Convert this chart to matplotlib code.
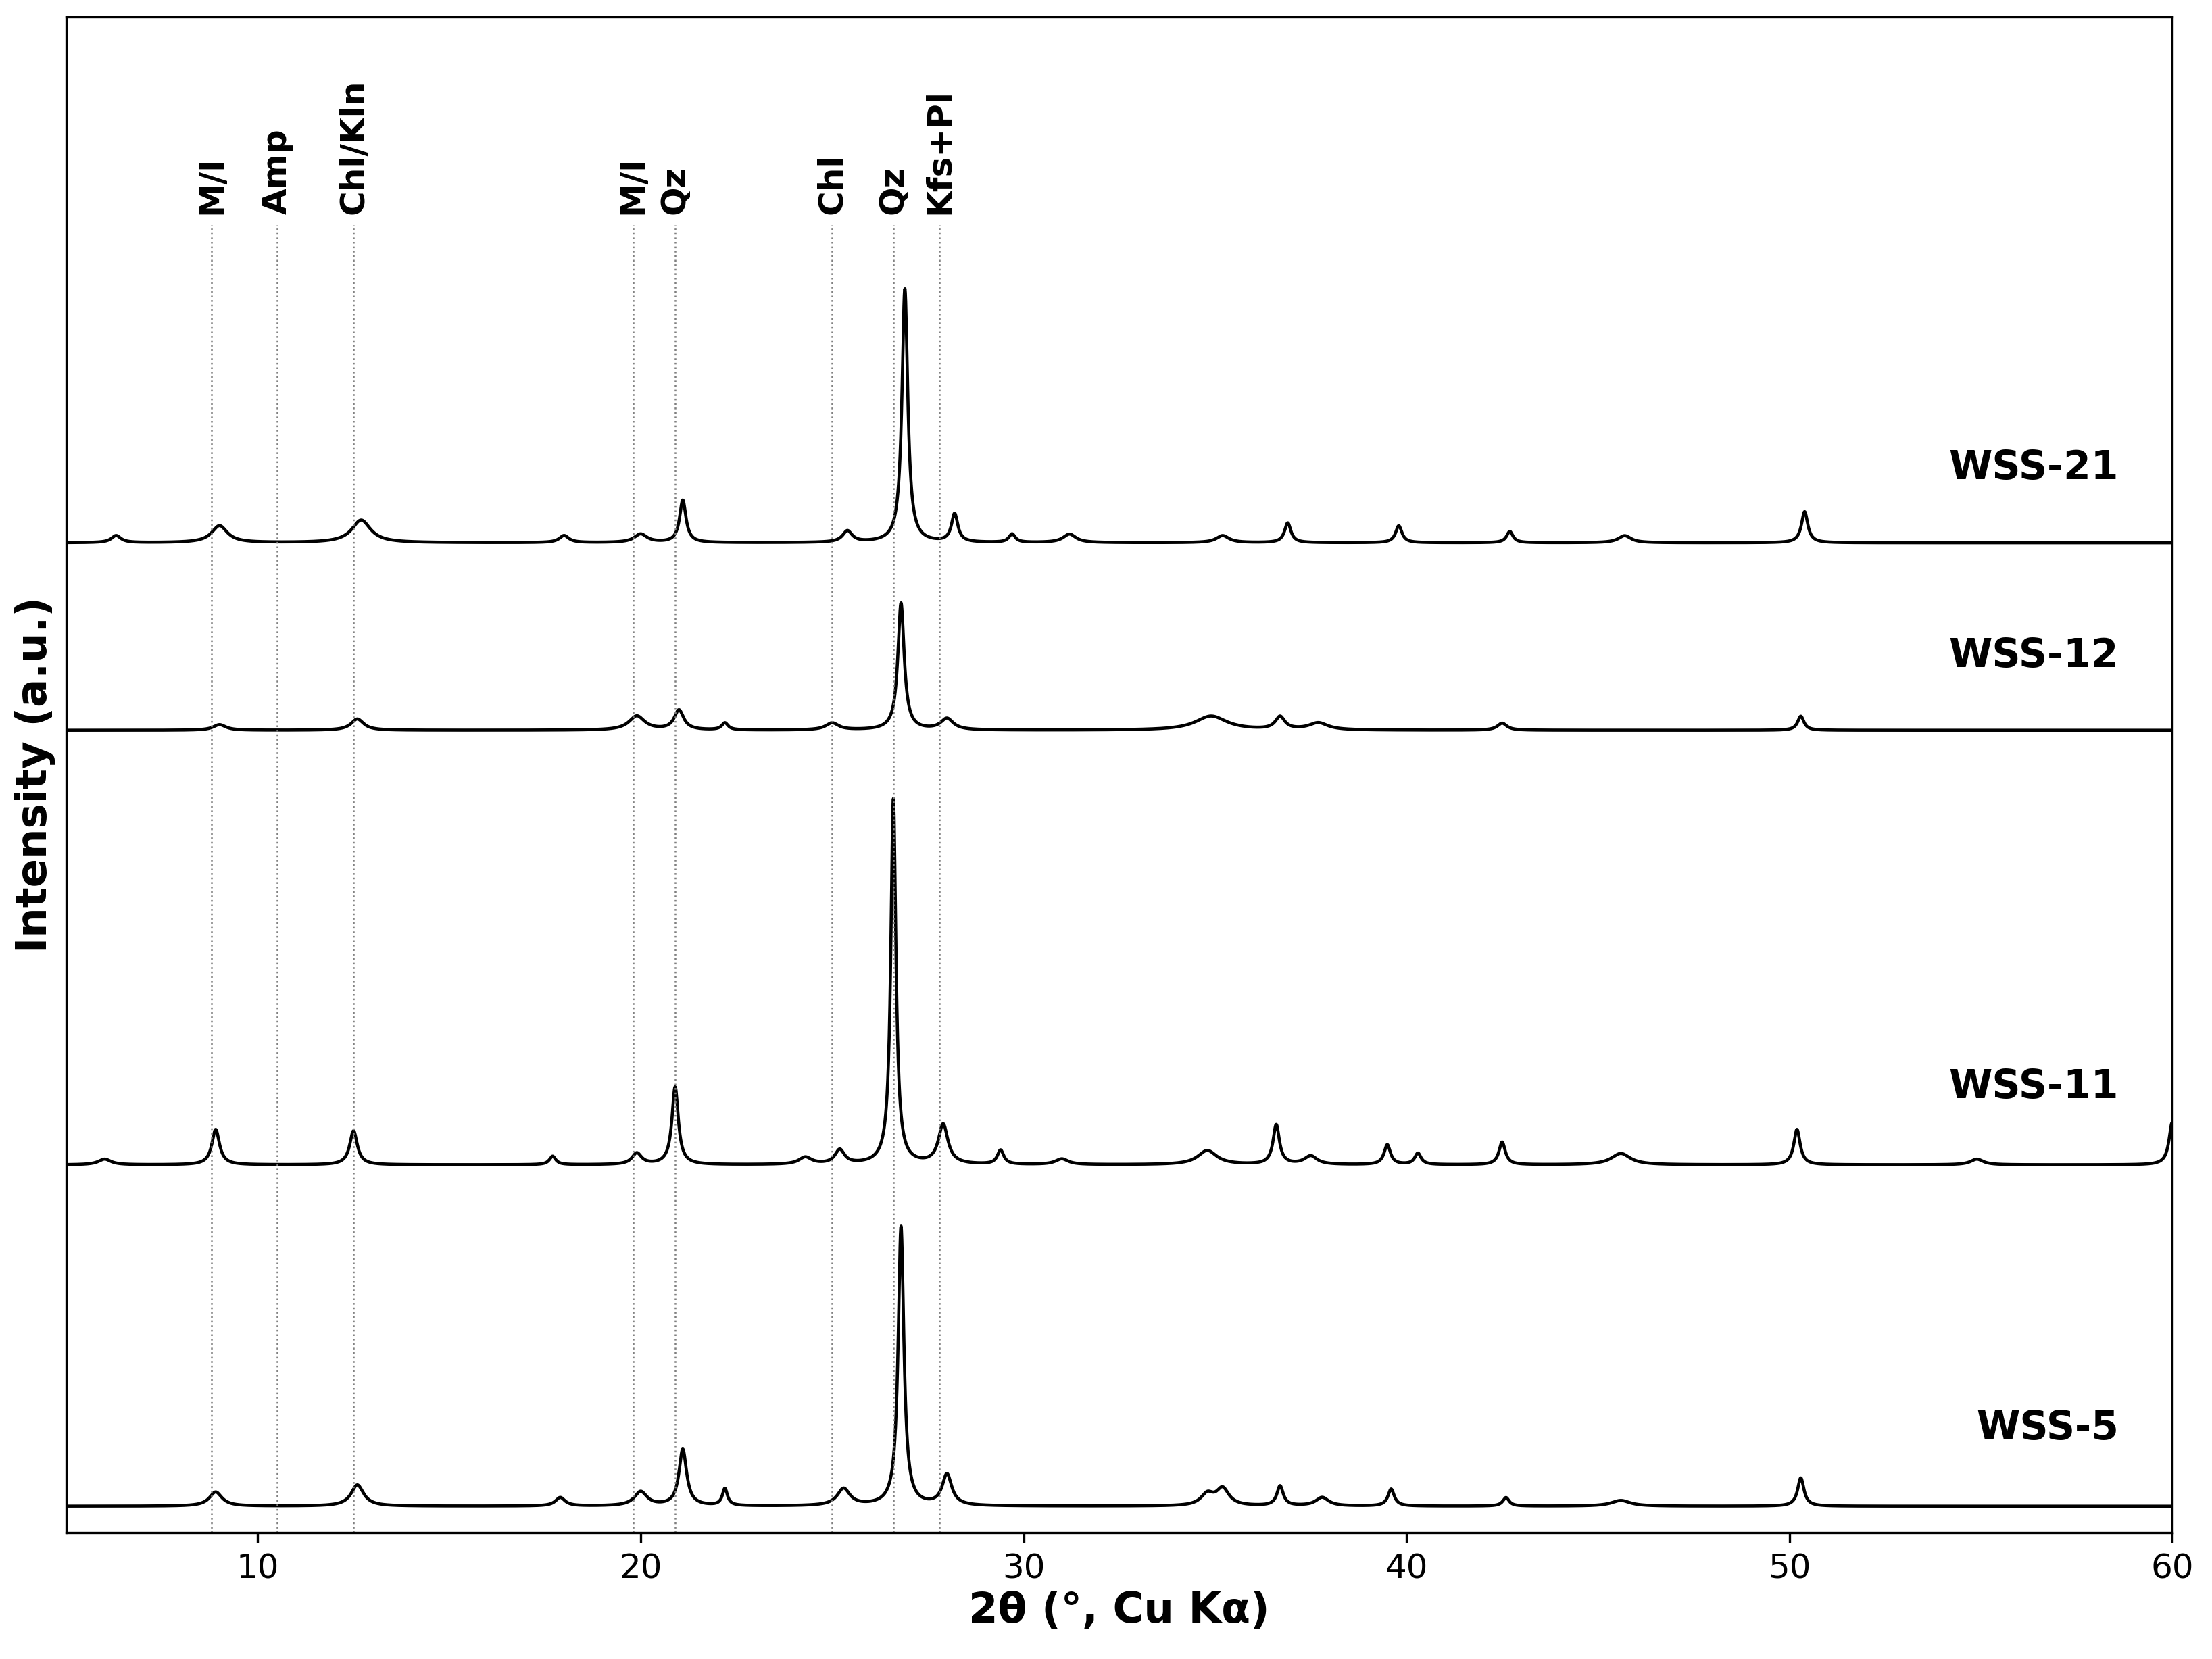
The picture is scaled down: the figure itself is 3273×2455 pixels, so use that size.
import numpy as np
import matplotlib
matplotlib.use("Agg")
import matplotlib.pyplot as plt

samples = ["WSS-5", "WSS-11", "WSS-12", "WSS-21"]
baselines = [19, 261, 569, 702]
label_y = [74, 316, 622, 755]

# peaks: (2theta, height, half-width)
peaks_wss5 = [(8.9,10,.2),(12.6,15,.2),(17.9,6,.15),(20.0,10,.2),(21.1,40,.12),(22.2,12,.08),(25.3,12,.2),
              (26.8,198,.09),(28.0,22,.15),(34.8,8,.2),(35.2,12,.2),(36.7,14,.1),(37.8,6,.2),(39.6,12,.1),
              (42.6,6,.1),(45.6,4,.3),(50.3,20,.1)]
peaks_wss11 = [(6.0,4,.2),(8.9,25,.12),(12.5,24,.12),(17.7,6,.1),(19.9,8,.15),(20.9,55,.1),(24.3,5,.2),
               (25.2,10,.15),(26.6,259,.08),(27.9,28,.15),(29.4,10,.1),(31.0,4,.2),(34.8,10,.3),(36.6,28,.1),
               (37.5,6,.2),(39.5,14,.1),(40.3,8,.1),(42.5,16,.1),(45.6,8,.3),(50.2,25,.1),(54.9,4,.2),(60.0,30,.1)]
peaks_wss12 = [(9.0,4,.2),(12.6,8,.2),(19.9,10,.25),(21.0,14,.15),(22.2,5,.1),(25.0,5,.2),(26.8,90,.1),
               (28.0,8,.2),(34.9,10,.5),(36.7,9,.15),(37.7,5,.3),(42.5,5,.15),(50.3,10,.1)]
peaks_wss21 = [(6.3,5,.15),(9.0,12,.25),(12.7,16,.3),(18.0,5,.15),(20.0,6,.2),(21.1,30,.1),(25.4,8,.15),
               (26.9,180,.09),(28.2,20,.1),(29.7,6,.1),(31.2,6,.2),(35.2,5,.2),(36.9,14,.1),(39.8,12,.1),
               (42.7,8,.1),(45.7,5,.2),(50.4,22,.1)]
all_peaks = [peaks_wss5, peaks_wss11, peaks_wss12, peaks_wss21]

phase_pos = [8.8, 10.5, 12.5, 19.8, 20.9, 25.0, 26.6, 27.8]
phase_lab = ["M/I", "Amp", "Chl/Kln", "M/I", "Qz", "Chl", "Qz", "Kfs+Pl"]

fig = plt.figure(figsize=(3273/300, 2455/300), dpi=300)
ax = fig.add_axes([0.030, 0.076, 0.952, 0.914])
x = np.linspace(5, 60, 6000)
for base, pk in zip(baselines, all_peaks):
    y = np.full_like(x, float(base))
    for c, h, w in pk:
        y += h / (1 + ((x - c) / w) ** 2)
    ax.plot(x, y, color="black", lw=1.1)
for s, ly in zip(samples, label_y):
    ax.text(58.6, ly, s, ha="right", va="center", fontsize=14, fontweight="bold")
for p, l in zip(phase_pos, phase_lab):
    ax.plot([p, p], [0, 927], color="gray", lw=0.6, ls=":")
    ax.text(p, 935, l, rotation=90, ha="center", va="bottom", fontsize=12, fontweight="bold")
ax.set_xlim(5, 60)
ax.set_ylim(0, 1075)
ax.set_yticks([])
ax.set_xticks([10, 20, 30, 40, 50, 60])
ax.tick_params(labelsize=12)
ax.set_xlabel("2θ (°, Cu Kα)", fontsize=15, fontweight="bold", labelpad=2)
ax.set_ylabel("Intensity (a.u.)", fontsize=15, fontweight="bold", labelpad=4)
fig.savefig("out.png", dpi=300)
